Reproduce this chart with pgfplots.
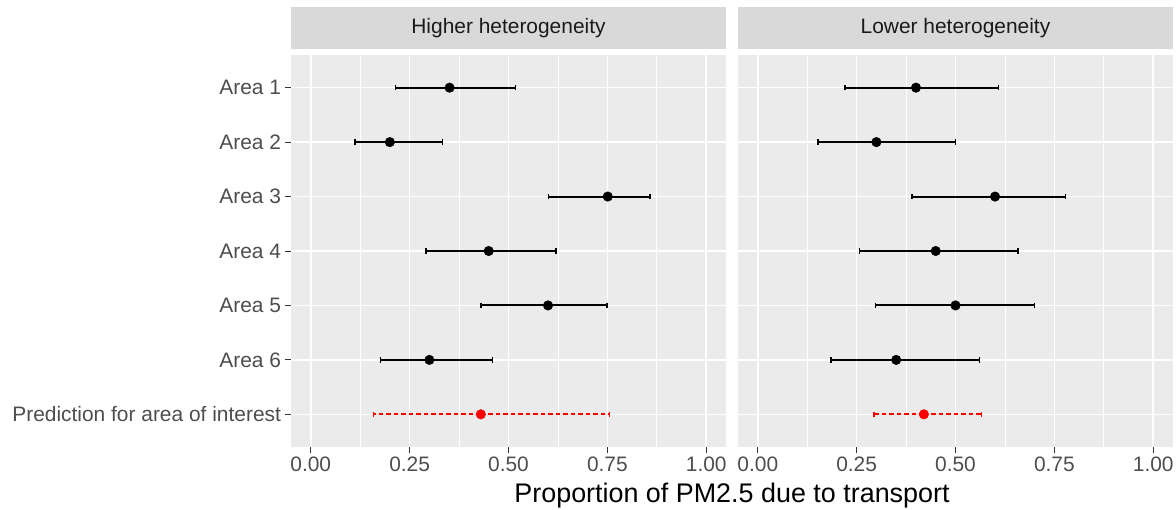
\documentclass[border=0pt]{standalone}
\usepackage{pgfplots}
\pgfplotsset{compat=1.18}
\usepackage{pgfplotstable}
\usepackage{fontspec}
\setmainfont{Liberation Sans}
\definecolor{panelgray}{HTML}{EBEBEB}
\definecolor{stripgray}{HTML}{D9D9D9}
\definecolor{grey30}{HTML}{4D4D4D}
\definecolor{grey20}{HTML}{333333}
\definecolor{grey10}{HTML}{1A1A1A}

\pgfplotstableread{
y x lo hi
7 0.351 0.214 0.518
6 0.200 0.112 0.333
5 0.751 0.601 0.858
4 0.450 0.291 0.620
3 0.600 0.430 0.749
2 0.300 0.176 0.460
}\highareas
\pgfplotstableread{
y x lo hi
1 0.430 0.158 0.755
}\highpred
\pgfplotstableread{
y x lo hi
7 0.400 0.221 0.609
6 0.300 0.152 0.500
5 0.600 0.390 0.778
4 0.450 0.257 0.658
3 0.500 0.297 0.699
2 0.350 0.185 0.560
}\lowareas
\pgfplotstableread{
y x lo hi
1 0.420 0.294 0.566
}\lowpred

\pgfplotsset{
  facet/.style={
    scale only axis, width=435bp, height=392bp, anchor=south west,
    xmin=-0.05, xmax=1.05, ymin=0.4, ymax=7.6,
    axis background/.style={fill=panelgray},
    axis line style={draw=none},
    xtick={0,0.25,0.5,0.75,1}, xticklabels={0.00,0.25,0.50,0.75,1.00},
    minor xtick={0.125,0.375,0.625,0.875},
    ytick={1,2,3,4,5,6,7},
    grid=both,
    major grid style={white, line width=1.5bp},
    minor grid style={white, line width=0.75bp},
    tick align=outside, major tick length=5.5bp, minor tick length=0pt,
    tick style={color=grey20, line width=1bp},
    xtick pos=bottom, ytick pos=left,
    tick label style={font=\fontsize{21}{24}\selectfont, text=grey30},
    xticklabel style={yshift=-1bp},
    title style={at={(0.5,1)}, anchor=south, fill=stripgray, inner sep=0pt,
      minimum width=435bp, minimum height=42bp, text=grey10,
      font=\fontsize{21}{24}\selectfont},
    clip=false,
  },
  areabars/.style={draw=black, fill=black, mark=*, mark size=4.8bp, only marks,
    mark options={draw=black, fill=black, solid},
    error bars/.cd, x dir=both, x explicit, error mark=|,
    error bar style={line width=2.1bp, draw=black, solid},
    error mark options={draw=black, line width=1.4bp, mark size=2.8bp, solid}},
  predbars/.style={draw=red, fill=red, mark=*, mark size=4.8bp, only marks,
    mark options={draw=red, fill=red, solid},
    error bars/.cd, x dir=both, x explicit, error mark=|,
    error bar style={line width=2.1bp, draw=red, dash pattern=on 4.5bp off 3bp},
    error mark options={draw=red, solid, line width=1.4bp, mark size=2.8bp}},
}

\begin{document}
\begin{tikzpicture}
\path[use as bounding box] (0,0) rectangle (1176bp,510bp);

\begin{axis}[facet, at={(291bp,63bp)}, title={Higher heterogeneity},
  yticklabels={Prediction for area of interest, Area 6, Area 5, Area 4, Area 3, Area 2, Area 1},
  yticklabel style={xshift=-1bp}]
\addplot[areabars] table[x=x, y=y,
  x error plus expr=\thisrow{hi}-\thisrow{x},
  x error minus expr=\thisrow{x}-\thisrow{lo}] {\highareas};
\addplot[predbars] table[x=x, y=y,
  x error plus expr=\thisrow{hi}-\thisrow{x},
  x error minus expr=\thisrow{x}-\thisrow{lo}] {\highpred};
\end{axis}

\begin{axis}[facet, at={(738bp,63bp)}, title={Lower heterogeneity},
  yticklabels={}, ytick style={draw=none}]
\addplot[areabars] table[x=x, y=y,
  x error plus expr=\thisrow{hi}-\thisrow{x},
  x error minus expr=\thisrow{x}-\thisrow{lo}] {\lowareas};
\addplot[predbars] table[x=x, y=y,
  x error plus expr=\thisrow{hi}-\thisrow{x},
  x error minus expr=\thisrow{x}-\thisrow{lo}] {\lowpred};
\end{axis}

\node[font=\fontsize{27}{30}\selectfont, text=black] at (732bp,14bp) {Proportion of PM2.5 due to transport};
\end{tikzpicture}
\end{document}
